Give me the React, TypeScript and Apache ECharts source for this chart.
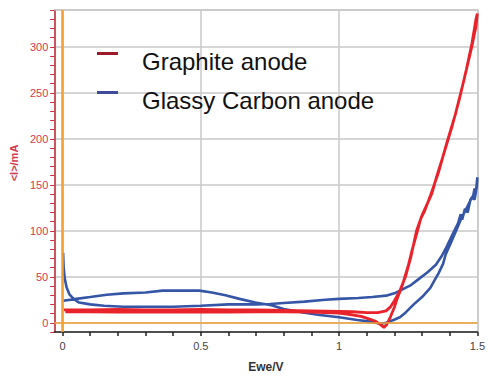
import React, { useEffect, useRef } from 'react';
import * as echarts from 'echarts';

const seriesNames = ['Graphite anode', 'Glassy Carbon anode'];

// Graphite anode CV loop: [Ewe/V, <I>/mA]
const graphiteScan: [number, number][] = [
  [0.005, 14], [0.1, 14], [0.2, 14.5], [0.3, 14], [0.4, 14], [0.5, 14.5], [0.6, 14], [0.7, 14],
  [0.8, 13.5], [0.9, 13], [1.0, 12.5], [1.05, 12], [1.1, 11], [1.14, 11], [1.17, 13], [1.185, 17],
  [1.2, 24], [1.22, 35], [1.24, 50], [1.26, 72], [1.28, 100], [1.3, 117], [1.32, 130], [1.335, 140],
  [1.35, 156], [1.38, 185], [1.41, 215], [1.435, 243], [1.46, 275], [1.48, 303], [1.495, 330], [1.5, 336],
  [1.495, 322], [1.48, 300], [1.45, 262], [1.42, 226], [1.39, 196], [1.36, 164], [1.33, 138], [1.31, 122],
  [1.295, 113], [1.28, 96], [1.265, 80], [1.25, 62], [1.23, 42], [1.21, 26], [1.2, 17], [1.185, 6],
  [1.172, -2], [1.162, -5], [1.15, -2], [1.13, 2], [1.11, 4], [1.08, 7], [1.04, 9], [1.0, 10.5],
  [0.9, 11.5], [0.8, 12], [0.7, 12], [0.6, 11.5], [0.5, 12], [0.4, 11.5], [0.3, 12], [0.2, 11.5],
  [0.1, 12], [0.01, 12],
];

// Glassy Carbon anode CV loop: [Ewe/V, <I>/mA]
const glassyScan: [number, number][] = [
  [0.002, 76], [0.004, 60], [0.008, 48], [0.015, 38], [0.025, 31], [0.04, 26], [0.06, 22], [0.1, 20],
  [0.15, 18.5], [0.22, 17.5], [0.3, 17.5], [0.4, 17.5], [0.5, 18.5], [0.6, 20], [0.7, 20], [0.75, 20.5],
  [0.8, 21.5], [0.875, 23], [0.95, 25], [1.0, 26], [1.07, 27], [1.12, 28], [1.17, 29.5], [1.2, 32],
  [1.22, 35], [1.26, 41], [1.29, 48], [1.32, 55], [1.35, 63], [1.37, 72], [1.388, 82], [1.41, 96],
  [1.43, 108], [1.44, 118], [1.445, 112], [1.455, 124], [1.465, 120], [1.475, 134], [1.485, 138],
  [1.49, 146], [1.495, 143], [1.5, 158],
  [1.498, 148], [1.49, 134], [1.48, 136], [1.46, 124], [1.44, 112], [1.42, 98], [1.4, 84], [1.385, 74],
  [1.376, 64], [1.36, 54], [1.345, 46], [1.33, 38], [1.3, 28], [1.27, 20], [1.24, 11], [1.22, 6],
  [1.197, 3], [1.17, 0], [1.15, -1], [1.12, 1], [1.066, 3], [1.0, 6], [0.93, 8.5], [0.875, 11],
  [0.8, 15], [0.755, 19], [0.697, 22], [0.64, 26], [0.589, 30], [0.54, 33], [0.494, 35], [0.43, 35],
  [0.362, 35], [0.3, 33], [0.22, 32], [0.16, 30.5], [0.1, 28], [0.05, 26], [0.003, 24],
];

const xTickValues = [0, 0.1, 0.2, 0.3, 0.4, 0.5, 0.6, 0.7, 0.8, 0.9, 1, 1.1, 1.2, 1.3, 1.4, 1.5];
const xLabelValues = [0, 0.5, 1, 1.5];
const yTickValues = [
  -10, 0, 10, 20, 30, 40, 50, 60, 70, 80, 90, 100, 110, 120, 130, 140, 150, 160, 170, 180,
  190, 200, 210, 220, 230, 240, 250, 260, 270, 280, 290, 300, 310, 320, 330, 340,
];
const yLabelValues = [0, 50, 100, 150, 200, 250, 300];

const X_MIN = -0.03;
const X_MAX = 1.5;
const Y_MIN = -10;
const Y_MAX = 340;

const FONT = '"Liberation Sans", Arial, Helvetica, sans-serif';
const RED_AXIS = '#c8283a';
const RED_LABEL = '#d4384c';
const GRID = '#c8c8c8';
const ORANGE = '#f2a033';

export default function App() {
  const ref = useRef<HTMLDivElement>(null);

  useEffect(() => {
    document.body.style.margin = '0';
    if (!ref.current) return;
    const chart = echarts.init(ref.current, undefined, { renderer: 'svg' });
    chart.setOption({
      animation: false,
      backgroundColor: '#ffffff',
      textStyle: { fontFamily: FONT },
      grid: { left: 53, right: 8, top: 10, bottom: 43, containLabel: false },
      legend: {
        left: 97,
        top: 34,
        padding: 0,
        orient: 'vertical',
        itemGap: 0,
        itemWidth: 21,
        itemHeight: 3,
        icon: 'rect',
        data: [
          { name: seriesNames[0], itemStyle: { color: '#9c1b2a' } },
          { name: seriesNames[1], itemStyle: { color: '#3f4a9a' } },
        ],
        formatter: '{t|{name}}',
        textStyle: {
          fontFamily: FONT,
          fontSize: 24,
          color: '#111',
          lineHeight: 24,
          padding: [15, 0, 0, 19],
          rich: {
            t: { fontFamily: FONT, fontSize: 24, lineHeight: 24, color: '#111' },
          },
        },
      },
      xAxis: [
        {
          type: 'value',
          min: X_MIN,
          max: X_MAX,
          position: 'bottom',
          name: 'Ewe/V',
          nameLocation: 'middle',
          nameGap: 29,
          nameTextStyle: { fontFamily: FONT, fontSize: 12, fontWeight: 'bold', color: '#333' },
          axisLine: { show: true, onZero: false, lineStyle: { color: '#222', width: 1.5 } },
          axisTick: { show: true, inside: false, length: 4, customValues: xTickValues, lineStyle: { color: '#222', width: 1.5 } },
          axisLabel: {
            customValues: xLabelValues,
            margin: 8,
            fontFamily: FONT,
            fontSize: 11,
            color: '#444',
            formatter: (v: number) => String(v),
          },
          splitLine: { show: false },
        },
        {
          type: 'value',
          min: X_MIN,
          max: X_MAX,
          position: 'top',
          splitNumber: 3,
          axisLine: { show: true, onZero: false, lineStyle: { color: GRID, width: 1.5 } },
          axisTick: { show: false },
          axisLabel: { show: false },
          splitLine: { show: true, lineStyle: { color: GRID, width: 1.5 } },
        },
      ],
      yAxis: [
        {
          type: 'value',
          min: Y_MIN,
          max: Y_MAX,
          position: 'left',
          name: '<I>/mA',
          nameLocation: 'middle',
          nameGap: 34,
          nameTextStyle: {
            fontFamily: FONT,
            fontSize: 11,
            fontWeight: 'bold',
            color: RED_LABEL,
            padding: [0, 0, 0, 16],
          },
          axisLine: { show: true, onZero: false, lineStyle: { color: RED_AXIS, width: 1.5 } },
          axisTick: { show: true, inside: false, length: 4, customValues: yTickValues, lineStyle: { color: RED_AXIS, width: 1 } },
          axisLabel: {
            customValues: yLabelValues,
            margin: 6,
            fontFamily: FONT,
            fontSize: 11,
            color: RED_LABEL,
            formatter: (v: number) => String(v),
          },
          splitLine: { show: false },
        },
        {
          type: 'value',
          min: Y_MIN,
          max: Y_MAX,
          position: 'right',
          splitNumber: 7,
          axisLine: { show: true, onZero: false, lineStyle: { color: GRID, width: 1.5 } },
          axisTick: { show: false },
          axisLabel: { show: false },
          splitLine: { show: true, lineStyle: { color: GRID, width: 1.5 } },
        },
      ],
      series: [
        {
          name: seriesNames[1],
          type: 'line',
          xAxisIndex: 0,
          yAxisIndex: 0,
          data: glassyScan,
          showSymbol: false,
          symbol: 'none',
          color: '#3556a6',
          lineStyle: { color: '#3556a6', width: 2.6 },
          z: 3,
          markLine: {
            silent: true,
            symbol: ['none', 'none'],
            label: { show: false },
            lineStyle: { color: ORANGE, type: 'solid' },
            data: [
              { xAxis: 0, lineStyle: { color: ORANGE, width: 2.5, type: 'solid' } },
              { yAxis: 0, lineStyle: { color: ORANGE, width: 1.5, type: 'solid' } },
            ],
          },
        },
        {
          name: seriesNames[0],
          type: 'line',
          xAxisIndex: 0,
          yAxisIndex: 0,
          data: graphiteScan,
          showSymbol: false,
          symbol: 'none',
          color: '#e8232b',
          lineStyle: { color: '#e8232b', width: 2.8 },
          z: 4,
        },
      ],
    });
    return () => chart.dispose();
  }, []);

  return <div ref={ref} style={{ width: 488, height: 378 }} />;
}
